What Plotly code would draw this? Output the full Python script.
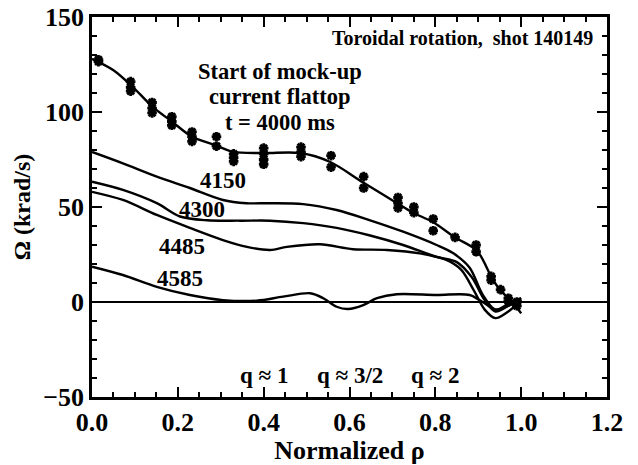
import plotly.graph_objects as go

# ---- data ----
rho_fit_4000 = [0.0, 0.05, 0.096, 0.14, 0.186, 0.233, 0.287, 0.329, 0.40, 0.485, 0.555, 0.631,
                0.711, 0.748, 0.795, 0.846, 0.897, 0.932, 0.951, 0.97, 0.985, 1.0]
om_fit_4000 = [128, 122, 113, 103, 95, 87, 82.6, 79, 78.4, 78.4, 73.7, 63,
               52, 47, 42, 34, 27, 12.6, 6.3, 2, -1.5, -6]

rho_pts = [0.015, 0.015, 0.09, 0.09, 0.09, 0.14, 0.14, 0.14, 0.186, 0.186, 0.186,
           0.233, 0.233, 0.233, 0.29, 0.29, 0.33, 0.33, 0.33, 0.40, 0.40, 0.40, 0.40,
           0.487, 0.487, 0.487, 0.557, 0.557, 0.633, 0.633, 0.713, 0.713, 0.713,
           0.75, 0.75, 0.795, 0.795, 0.846, 0.895, 0.895, 0.93, 0.93, 0.952,
           0.97, 0.97, 0.99, 0.99]
om_pts = [127.5, 126.5, 116, 113, 111, 105, 102, 99.5, 97.5, 95, 93,
          89.5, 87, 84.5, 87, 82, 78, 76, 74, 81, 78, 75, 72.5,
          81.5, 79, 76.5, 77, 71, 66, 60, 55, 52, 49.5,
          50, 47, 43.7, 37.5, 34, 30, 26.5, 13.5, 11.5, 6.5,
          2, 0.5, 0, -2]

rho_4150 = [0, 0.072, 0.151, 0.228, 0.305, 0.36, 0.415, 0.492, 0.57, 0.648, 0.725, 0.803,
            0.842, 0.88, 0.91, 0.94, 0.97, 1.0]
om_4150 = [79, 73, 66, 60, 53.7, 52, 52, 51.5, 48.4, 43, 37, 30, 25.6, 18, 4, -4, -1, 2]

rho_4300 = [0, 0.072, 0.151, 0.205, 0.268, 0.345, 0.415, 0.492, 0.57, 0.648, 0.725, 0.803,
            0.85, 0.885, 0.915, 0.94, 0.97, 1.0]
om_4300 = [63.3, 59, 52, 45, 43, 42.8, 42.8, 41.5, 39, 35, 30, 23.7, 21, 13, 1, -5, -2, 2]

rho_4485 = [0, 0.072, 0.151, 0.228, 0.305, 0.361, 0.415, 0.454, 0.531, 0.608, 0.687, 0.764,
            0.827, 0.86, 0.89, 0.915, 0.94, 0.97, 1.0]
om_4485 = [58, 53.7, 45.8, 39, 32.6, 29, 27.4, 29, 30.4, 27.8, 27.4, 25.6, 22, 17, 6, -4, -8.5, -5, 1]

rho_4585 = [0, 0.072, 0.151, 0.228, 0.305, 0.384, 0.445, 0.508, 0.539, 0.57, 0.597, 0.632,
            0.664, 0.71, 0.803, 0.88, 0.91, 0.94, 0.97, 1.0]
om_4585 = [18.6, 14.2, 8, 3.7, 1, 0.7, 2.8, 4.6, 2, -2.5, -3.7, -1.6, 2, 4.1, 3.7, 3.7, 0, -4, -2, 1]

time_labels = ["4150", "4300", "4485", "4585"]
time_label_x = [0.305, 0.256, 0.21, 0.205]
time_label_y = [64, 48.5, 29, 12.5]

q_labels = ["q \u2248 1", "q \u2248 3/2", "q \u2248 2"]
q_x = [0.4, 0.6, 0.8]

header_lines = ["Start of mock-up", "current flattop", "t = 4000 ms"]
header_y = [121.5, 108, 94.5]

FONT = "Liberation Serif, Times New Roman, serif"

fig = go.Figure()
line = dict(color="black", width=2.4, shape="spline", smoothing=0.9)
for rx, oy in [(rho_4150, om_4150), (rho_4300, om_4300), (rho_4485, om_4485), (rho_4585, om_4585)]:
    fig.add_trace(go.Scatter(x=rx, y=oy, mode="lines", line=line, showlegend=False))
fig.add_trace(go.Scatter(x=rho_fit_4000, y=om_fit_4000, mode="lines", line=line, showlegend=False))
fig.add_trace(go.Scatter(x=rho_pts, y=om_pts, mode="markers", showlegend=False,
                         marker=dict(symbol="asterisk-open", size=8, color="black",
                                     line=dict(color="black", width=2.8))))

for t, x, y in zip(time_labels, time_label_x, time_label_y):
    fig.add_annotation(x=x, y=y, text=f"<b>{t}</b>", showarrow=False,
                       font=dict(family=FONT, size=23, color="black"))

for t, x in zip(q_labels, q_x):
    fig.add_annotation(x=x, y=-38.5, text=f"<b>{t}</b>", showarrow=False,
                       font=dict(family=FONT, size=23, color="black"))

for t, y in zip(header_lines, header_y):
    fig.add_annotation(x=0.438, y=y, text=f"<b>{t}</b>", showarrow=False,
                       font=dict(family=FONT, size=22.5, color="black"))

fig.add_annotation(x=1.172, y=139, xanchor="right", text="<b>Toroidal rotation,  shot 140149</b>",
                   showarrow=False, font=dict(family=FONT, size=20, color="black"))

axis_common = dict(showline=True, linecolor="black", linewidth=2.5, mirror="ticks",
                   ticks="inside", tickcolor="black", tickwidth=2, ticklen=10,
                   showgrid=False, automargin=False,
                   tickfont=dict(family=FONT, size=26, color="black", weight="bold"))

fig.update_xaxes(range=[0, 1.2], dtick=0.2, tickformat=".1f", zeroline=False,
                 minor=dict(ticks="inside", dtick=0.05, ticklen=5, tickwidth=2, tickcolor="black"),
                 title=dict(text="<b>Normalized \u03c1</b>", standoff=4,
                            font=dict(family=FONT, size=26, color="black")),
                 **axis_common)
fig.update_yaxes(range=[-50, 150], dtick=50, zeroline=True, zerolinecolor="black", zerolinewidth=2,
                 minor=dict(ticks="inside", dtick=10, ticklen=5, tickwidth=2, tickcolor="black"),
                 title=dict(text="<b>\u03a9 (krad/s)</b>", standoff=6,
                            font=dict(family=FONT, size=24, color="black")),
                 **axis_common)

fig.update_layout(width=638, height=465, margin=dict(l=92, r=31, t=17, b=68),
                  plot_bgcolor="white", paper_bgcolor="white")

fig.write_html("out.html")
